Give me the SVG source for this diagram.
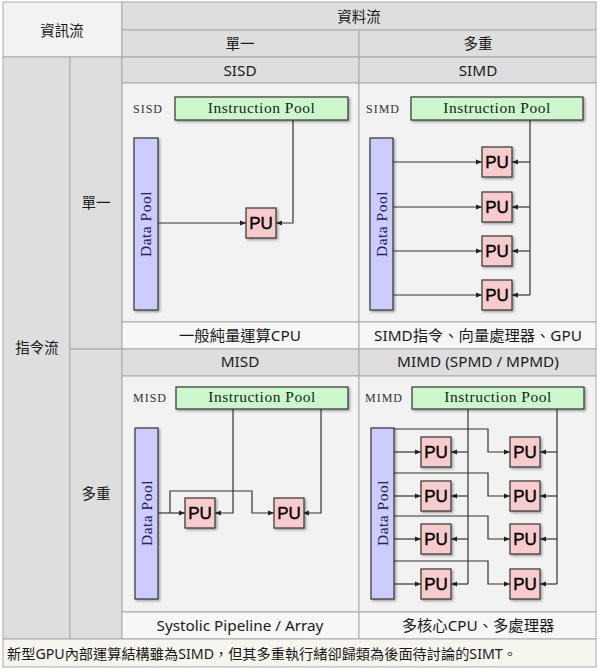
<svg xmlns="http://www.w3.org/2000/svg" width="599" height="670" viewBox="0 0 599 670">
<defs>
<style>
.hd{fill:#dedede;stroke:#a9a9a9;stroke-width:1}
.lt{fill:#f2f2f2;stroke:#a9a9a9;stroke-width:1}
.cp{fill:#f7f7f7;stroke:#a9a9a9;stroke-width:1}
.t{font-family:"Noto Sans","Noto Sans CJK TC",sans-serif;font-size:14.5px;fill:#1a1a1a;text-anchor:middle}
.c{font-family:"Noto Sans","Noto Sans CJK TC",sans-serif;font-size:15.3px;fill:#1a1a1a;text-anchor:middle}
.lbl{font-family:"Liberation Serif",serif;font-size:12px;letter-spacing:1px;fill:#333}
.ip{fill:#ccf7cc;stroke:#333;stroke-width:1.2;filter:url(#sh)}
.dp{fill:#ccccff;stroke:#333;stroke-width:1.2;filter:url(#sh)}
.pu{fill:#f8cccc;stroke:#333;stroke-width:1.2;filter:url(#sh)}
.st{font-family:"Liberation Serif",serif;font-size:15.5px;letter-spacing:0.5px;fill:#142814;text-anchor:middle}
.dt{font-family:"Liberation Serif",serif;font-size:15.5px;letter-spacing:0.5px;fill:#22224a;text-anchor:middle}
.pt{font-family:"Liberation Sans",sans-serif;font-size:17px;fill:#000;stroke:#000;stroke-width:0.4;text-anchor:middle}
.ln{fill:none;stroke:#333;stroke-width:1.2}
.ar{fill:none;stroke:#333;stroke-width:1.2;marker-end:url(#ah)}
</style>
<marker id="ah" markerUnits="userSpaceOnUse" markerWidth="6" markerHeight="6" refX="6" refY="3" orient="auto">
<path d="M0,0.5 L6,3 L0,5.5 z" fill="#222"/>
</marker>
<filter id="sh" x="-20%" y="-20%" width="150%" height="150%">
<feDropShadow dx="1.5" dy="1.5" stdDeviation="1" flood-color="#000" flood-opacity="0.35"/>
</filter>
</defs>
<rect x="0" y="0" width="599" height="670" fill="#ffffff"/>
<g id="table">
<rect class="lt" x="3" y="2" width="119" height="55"/>
<rect class="hd" x="122" y="2" width="474" height="28"/>
<rect class="hd" x="122" y="30" width="237" height="27"/>
<rect class="hd" x="359" y="30" width="237" height="27"/>
<rect class="hd" x="3" y="57" width="67" height="582"/>
<rect class="hd" x="70" y="57" width="52" height="292"/>
<rect class="hd" x="70" y="349" width="52" height="290"/>
<rect class="hd" x="122" y="57" width="237" height="26"/>
<rect class="hd" x="359" y="57" width="237" height="26"/>
<rect class="lt" x="122" y="83" width="237" height="239"/>
<rect class="lt" x="359" y="83" width="237" height="239"/>
<rect class="cp" x="122" y="322" width="237" height="27"/>
<rect class="cp" x="359" y="322" width="237" height="27"/>
<rect class="hd" x="122" y="349" width="237" height="27"/>
<rect class="hd" x="359" y="349" width="237" height="27"/>
<rect class="lt" x="122" y="376" width="237" height="236"/>
<rect class="lt" x="359" y="376" width="237" height="236"/>
<rect class="cp" x="122" y="612" width="237" height="27"/>
<rect class="cp" x="359" y="612" width="237" height="27"/>
<rect x="3" y="639" width="593" height="28" fill="#f6f5ee" stroke="#a9a9a9" stroke-width="1"/>
<text class="t" x="62" y="36">資訊流</text>
<text class="t" x="359" y="22">資料流</text>
<text class="t" x="240" y="49">單一</text>
<text class="t" x="478" y="49">多重</text>
<text class="t" x="37" y="353">指令流</text>
<text class="t" x="96" y="208">單一</text>
<text class="t" x="96" y="499">多重</text>
<text class="c" x="240" y="76">SISD</text>
<text class="c" x="478" y="76">SIMD</text>
<text class="c" x="240" y="341">一般純量運算CPU</text>
<text class="c" x="478" y="341">SIMD指令、向量處理器、GPU</text>
<text class="c" x="240" y="367">MISD</text>
<text class="c" x="478" y="367">MIMD (SPMD / MPMD)</text>
<text class="c" x="240" y="631">Systolic Pipeline / Array</text>
<text class="c" x="478" y="631">多核心CPU、多處理器</text>
<text class="t" x="7" y="659" style="text-anchor:start;font-size:14.2px">新型GPU內部運算結構雖為SIMD，但其多重執行緒卻歸類為後面待討論的SIMT。</text>
</g>
<g id="connectors">
<path class="ar" d="M158,223 H246"/>
<path class="ar" d="M293,120 V223 H276"/>
<path class="ar" d="M393,162 H482"/>
<path class="ar" d="M393,207 H482"/>
<path class="ar" d="M393,251 H482"/>
<path class="ar" d="M393,295 H482"/>
<path class="ln" d="M530,120 V295"/>
<path class="ar" d="M530,162 H512"/>
<path class="ar" d="M530,207 H512"/>
<path class="ar" d="M530,251 H512"/>
<path class="ar" d="M530,295 H512"/>
<path class="ar" d="M158,513 H185"/>
<path class="ar" d="M170,513 V491 H252 V513 H274"/>
<path class="ar" d="M233,409 V513 H215"/>
<path class="ar" d="M321,409 V513 H303"/>
<path class="ar" d="M394,452 H421"/>
<path class="ar" d="M394,496 H421"/>
<path class="ar" d="M394,539 H421"/>
<path class="ar" d="M394,584 H421"/>
<path class="ar" d="M394,429 H488 V452 H510"/>
<path class="ar" d="M394,473 H488 V496 H510"/>
<path class="ar" d="M394,516 H488 V539 H510"/>
<path class="ar" d="M394,561 H488 V584 H510"/>
<path class="ln" d="M468,409 V584"/>
<path class="ar" d="M468,452 H451"/>
<path class="ar" d="M468,496 H451"/>
<path class="ar" d="M468,539 H451"/>
<path class="ar" d="M468,584 H451"/>
<path class="ln" d="M557,409 V584"/>
<path class="ar" d="M557,452 H540"/>
<path class="ar" d="M557,496 H540"/>
<path class="ar" d="M557,539 H540"/>
<path class="ar" d="M557,584 H540"/>
</g>
<g id="sisd">
<text class="lbl" x="133" y="113">SISD</text>
<g id="sisd-ip"><rect class="ip" x="175" y="97" width="173" height="23"/><text class="st" x="261.5" y="113">Instruction Pool</text></g>
<g id="sisd-dp"><rect class="dp" x="134" y="138" width="24" height="172"/><text class="dt" transform="translate(146,224) rotate(-90)" y="5">Data Pool</text></g>
<g id="sisd-pu"><rect class="pu" x="246" y="208" width="30" height="30"/><text class="pt" x="261" y="229">PU</text></g>
</g>
<g id="simd">
<text class="lbl" x="366" y="113">SIMD</text>
<g id="simd-ip"><rect class="ip" x="411" y="97" width="172" height="23"/><text class="st" x="497" y="113">Instruction Pool</text></g>
<g id="simd-dp"><rect class="dp" x="370" y="138" width="23" height="172"/><text class="dt" transform="translate(381.5,224) rotate(-90)" y="5">Data Pool</text></g>
<g id="simd-pu1"><rect class="pu" x="482" y="147" width="30" height="30"/><text class="pt" x="497" y="168">PU</text></g>
<g id="simd-pu2"><rect class="pu" x="482" y="192" width="30" height="30"/><text class="pt" x="497" y="213">PU</text></g>
<g id="simd-pu3"><rect class="pu" x="482" y="236" width="30" height="30"/><text class="pt" x="497" y="257">PU</text></g>
<g id="simd-pu4"><rect class="pu" x="482" y="280" width="30" height="30"/><text class="pt" x="497" y="301">PU</text></g>
</g>
<g id="misd">
<text class="lbl" x="133" y="402">MISD</text>
<g id="misd-ip"><rect class="ip" x="176" y="387" width="172" height="22"/><text class="st" x="262" y="402">Instruction Pool</text></g>
<g id="misd-dp"><rect class="dp" x="135" y="428" width="23" height="171"/><text class="dt" transform="translate(146.5,513) rotate(-90)" y="5">Data Pool</text></g>
<g id="misd-pu1"><rect class="pu" x="185" y="498" width="30" height="30"/><text class="pt" x="200" y="519">PU</text></g>
<g id="misd-pu2"><rect class="pu" x="274" y="498" width="30" height="30"/><text class="pt" x="289" y="519">PU</text></g>
</g>
<g id="mimd">
<text class="lbl" x="365" y="402">MIMD</text>
<g id="mimd-ip"><rect class="ip" x="412" y="387" width="172" height="22"/><text class="st" x="498" y="402">Instruction Pool</text></g>
<g id="mimd-dp"><rect class="dp" x="371" y="428" width="23" height="171"/><text class="dt" transform="translate(382.5,513) rotate(-90)" y="5">Data Pool</text></g>
<g id="mimd-pu11"><rect class="pu" x="421" y="437" width="30" height="30"/><text class="pt" x="436" y="458">PU</text></g>
<g id="mimd-pu21"><rect class="pu" x="421" y="481" width="30" height="30"/><text class="pt" x="436" y="502">PU</text></g>
<g id="mimd-pu31"><rect class="pu" x="421" y="524" width="30" height="30"/><text class="pt" x="436" y="545">PU</text></g>
<g id="mimd-pu41"><rect class="pu" x="421" y="569" width="30" height="30"/><text class="pt" x="436" y="590">PU</text></g>
<g id="mimd-pu12"><rect class="pu" x="510" y="437" width="30" height="30"/><text class="pt" x="525" y="458">PU</text></g>
<g id="mimd-pu22"><rect class="pu" x="510" y="481" width="30" height="30"/><text class="pt" x="525" y="502">PU</text></g>
<g id="mimd-pu32"><rect class="pu" x="510" y="524" width="30" height="30"/><text class="pt" x="525" y="545">PU</text></g>
<g id="mimd-pu42"><rect class="pu" x="510" y="569" width="30" height="30"/><text class="pt" x="525" y="590">PU</text></g>
</g>
</svg>
